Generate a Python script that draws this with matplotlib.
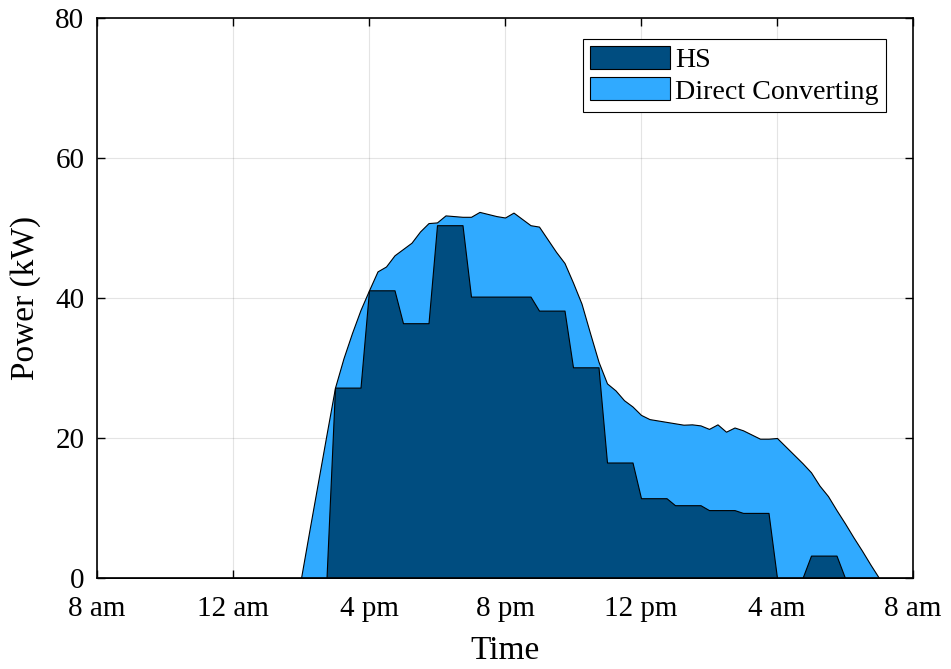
import numpy as np
import matplotlib.pyplot as plt

# hours after 8 am, 15-min steps
t = np.arange(0, 24.01, 0.25)

# total power (top of stacked area), kW, read from h=6.0 to h=23.0
total_on = [0, 6.9, 13.7, 20.5,
            27.2, 31.4, 35.0, 38.3,
            41.1, 43.8, 44.5, 46.1,
            47.0, 47.9, 49.5, 50.7,
            50.8, 51.8, 51.7, 51.6,
            51.6, 52.3, 52.0, 51.7,
            51.5, 52.2, 51.3, 50.4,
            50.2, 48.4, 46.6, 45.0,
            42.2, 39.2, 35.0, 30.9,
            27.8, 26.8, 25.4, 24.5,
            23.3, 22.7, 22.5, 22.3,
            22.1, 21.9, 21.95, 21.8,
            21.3, 21.95, 20.9, 21.5,
            21.1, 20.5, 19.9, 19.9,
            20.0, 18.8, 17.6, 16.4,
            15.1, 13.2, 11.7, 9.7,
            7.8, 5.8, 3.9, 1.9,
            0]
total = [0] * 24 + total_on + [0] * 4

# HS part, kW, from h=6.0 to h=23.0
hs_on = [0, 0, 0, 0,
         27.2, 27.2, 27.2, 27.2,
         41.1, 41.1, 41.1, 41.1,
         36.4, 36.4, 36.4, 36.4,
         50.4, 50.4, 50.4, 50.4,
         40.2, 40.2, 40.2, 40.2,
         40.2, 40.2, 40.2, 40.2,
         38.2, 38.2, 38.2, 38.2,
         30.1, 30.1, 30.1, 30.1,
         16.5, 16.5, 16.5, 16.5,
         11.4, 11.4, 11.4, 11.4,
         10.4, 10.4, 10.4, 10.4,
         9.7, 9.7, 9.7, 9.7,
         9.3, 9.3, 9.3, 9.3,
         0, 0, 0, 0,
         3.2, 3.2, 3.2, 3.2,
         0, 0, 0, 0,
         0]
hs = [0] * 24 + hs_on + [0] * 4

tick_hours = [0, 4, 8, 12, 16, 20, 24]
tick_labels = ['8 am', '12 am', '4 pm', '8 pm', '12 pm', '4 am', '8 am']

plt.rcParams['font.family'] = ['Liberation Serif', 'DejaVu Serif']
plt.rcParams['mathtext.fontset'] = 'stix'

fig = plt.figure(figsize=(9.51, 6.69), dpi=100)
ax = fig.add_axes([97/951, 91/669, 816/951, 560/669])

ax.fill_between(t, 0, total, facecolor='#30AAFF', edgecolor='black', linewidth=0.8,
                label='Direct Converting', zorder=2)
ax.fill_between(t, 0, hs, facecolor='#004D80', edgecolor='black', linewidth=0.8,
                label='HS', zorder=3)

ax.set_xlim(0, 24)
ax.set_ylim(0, 80)
ax.set_xticks(tick_hours)
ax.set_xticklabels(tick_labels)
ax.set_yticks([0, 20, 40, 60, 80])
ax.grid(True, color='#262626', alpha=0.12, linewidth=0.8, zorder=0)
ax.set_axisbelow(True)
ax.tick_params(direction='in', top=True, right=True, labelsize=21, length=6, width=1.0)
ax.tick_params(axis='x', pad=13)
ax.tick_params(axis='y', pad=9)
for s in ax.spines.values():
    s.set_linewidth(1.2)
    s.set_zorder(5)

ax.set_xlabel('Time', fontsize=24, labelpad=10)
ax.set_ylabel('Power (kW)', fontsize=24, labelpad=10)

h, l = ax.get_legend_handles_labels()
leg = ax.legend(h[::-1], l[::-1], loc='upper right', fontsize=20.2, fancybox=False,
                bbox_to_anchor=(886/951, 1 - 39/669), bbox_transform=fig.transFigure,
                edgecolor='black', framealpha=1, borderaxespad=0,
                handlelength=2.85, handleheight=0.88, borderpad=0.25,
                labelspacing=0.15, handletextpad=0.2)
leg.get_frame().set_linewidth(0.8)

fig.savefig('out.png', dpi=100)
